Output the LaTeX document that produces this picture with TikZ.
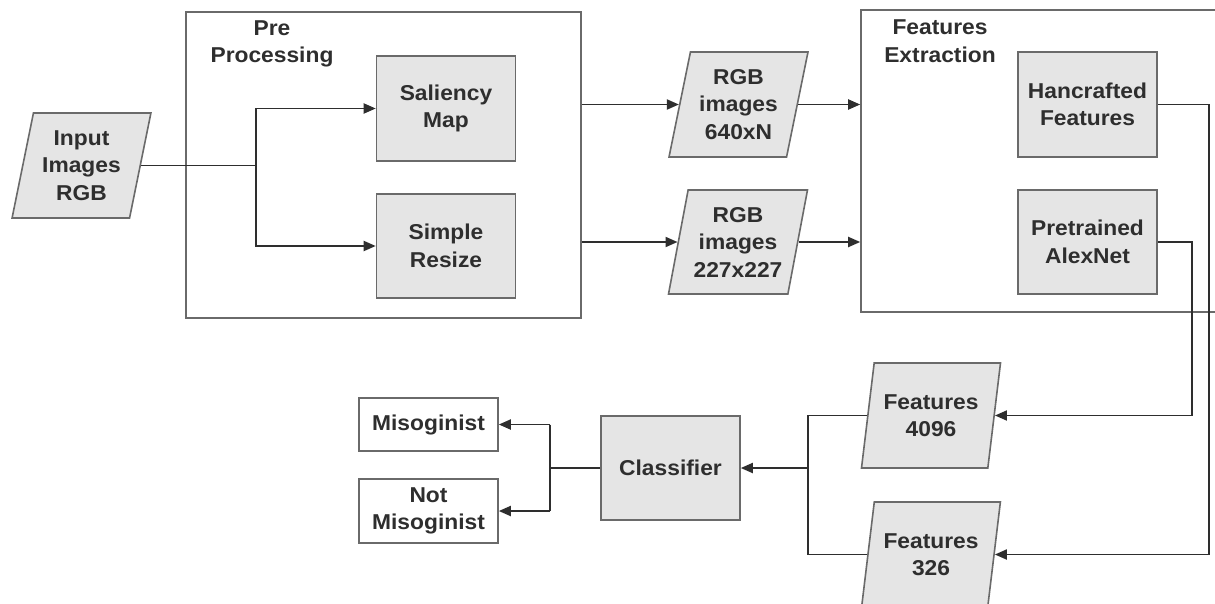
\documentclass[tikz,border=0pt]{standalone}
\usepackage{fontspec}
\setmainfont{Liberation Sans}[FakeStretch=1.06]
\usetikzlibrary{shapes.geometric,arrows.meta,calc}
\definecolor{boxfill}{HTML}{E5E5E5}
\definecolor{boxline}{HTML}{6A6A6A}
\definecolor{conn}{HTML}{2E2E2E}
\begin{document}
\begin{tikzpicture}[x=1pt,y=-1pt,
  every node/.style={font=\fontsize{21.5}{27.5}\selectfont\bfseries, text=conn, align=center, inner sep=0pt},
  proc/.style={draw=boxline, line width=1.6pt, fill=boxfill, rectangle, minimum width=139pt, minimum height=105pt},
  outbox/.style={draw=boxline, line width=1.6pt, fill=white, rectangle, minimum width=139pt},
  group/.style={draw=boxline, line width=1.6pt, rectangle},
  data/.style={draw=boxline, line width=1.6pt, fill=boxfill, trapezium, trapezium left angle=76, trapezium right angle=104, trapezium stretches=true, minimum width=139pt, minimum height=105pt},
  link/.style={draw=conn, line width=1.9pt},
  arr/.style={link, -{Triangle[length=12pt,width=10pt]}}
]
\path[use as bounding box, clip] (0,0) rectangle (1215,604);

% groups
\node[group, minimum width=395pt, minimum height=306pt] (pre) at (383.5,165) {};
\node (prelab) at (272,44) {Pre\\Processing};
\node[group, minimum width=390pt, minimum height=302pt] (feat) at (1056,161) {};
\node (featlab) at (940,41) {Features\\Extraction};

% nodes
\node[data] (in) at (81.5,165.5) {Input\\Images\\RGB};
\node[proc] (sal) at (446,108.5) {Saliency\\Map};
\node[proc, minimum height=104pt] (res) at (446,246) {Simple\\Resize};
\node[data] (rgb1) at (738.5,104.5) {RGB\\images\\640xN};
\node[data, minimum height=104pt] (rgb2) at (738,242) {RGB\\images\\227x227};
\node[proc] (hand) at (1087.5,104.5) {Hancrafted\\Features};
\node[proc, minimum height=104pt] (pretr) at (1087.5,242) {Pretrained\\AlexNet};
\node[data] (f4096) at (931,415.5) {Features\\4096};
\node[data] (f326) at (931,554.5) {Features\\326};
\node[proc, minimum height=104pt] (cls) at (670.5,468) {Classifier};
\node[outbox, minimum height=53pt] (mis) at (428.5,424.5) {Misoginist};
\node[outbox, minimum height=64pt] (notmis) at (428.5,511) {Not\\Misoginist};

% helper coordinates
\coordinate (j1) at (256,0);
\coordinate (hx) at (1209,0);
\coordinate (px) at (1192,0);
\coordinate (fx) at (808,0);
\coordinate (cx) at (550,0);

% connectors
\draw[link] (in.east) -- (in.east -| j1);
\draw[arr] (in.east -| j1) |- (sal.west);
\draw[arr] (in.east -| j1) |- (res.west);
\draw[arr] (pre.east |- rgb1.west) -- (rgb1.west);
\draw[arr] (pre.east |- rgb2.west) -- (rgb2.west);
\draw[arr] (rgb1.east) -- (feat.west |- rgb1.east);
\draw[arr] (rgb2.east) -- (feat.west |- rgb2.east);
\draw[arr] (hand.east) -- (hand.east -| hx) |- (f326.east);
\draw[arr] (pretr.east) -- (pretr.east -| px) |- (f4096.east);
\draw[link] (f4096.west) -- (f4096.west -| fx) -- (f326.west -| fx) -- (f326.west);
\draw[arr] (cls.east -| fx) -- (cls.east);
\draw[link] (cls.west) -- (cls.west -| cx);
\draw[arr] (mis.east -| cx) -- (mis.east);
\draw[arr] (notmis.east -| cx) -- (notmis.east);
\draw[link] (mis.east -| cx) -- (notmis.east -| cx);
\end{tikzpicture}
\end{document}
